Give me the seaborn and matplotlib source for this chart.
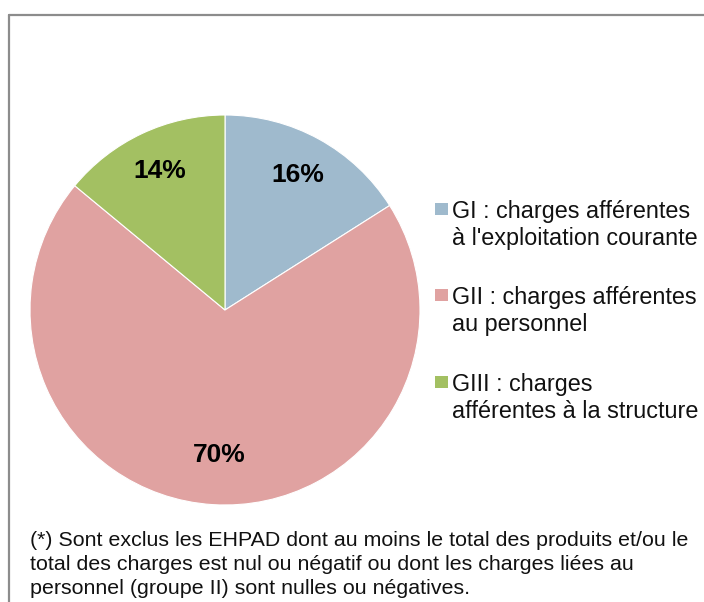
import matplotlib
matplotlib.use("Agg")
import matplotlib.pyplot as plt
from matplotlib.lines import Line2D
from matplotlib.patches import Rectangle
import seaborn as sns

# ----------------------
# DATA
# ----------------------
groups = [["GI : charges afférentes", "à l'exploitation courante"],
          ["GII : charges afférentes", "au personnel"],
          ["GIII : charges", "afférentes à la structure"]]
shares = [16, 70, 14]
colors = ["#9FBACD", "#E0A2A1", "#A3C062"]
note = ["(*) Sont exclus les EHPAD dont au moins le total des produits et/ou le",
        "total des charges est nul ou négatif ou dont les charges liées au",
        "personnel (groupe II) sont nulles ou négatives."]

sns.set_theme(style="white")
plt.rcParams['font.family'] = ['Liberation Sans', 'DejaVu Sans']

W, H = 704, 602
fig = plt.figure(figsize=(W / 100, H / 100), dpi=100)

def fy(py):
    return (H - py) / H

# pie: centre ~ (225, 310), radius ~ 195 px
cx, cy, r = 225, 310, 195
ax = fig.add_axes([(cx - r) / W, (H - cy - r) / H, 2 * r / W, 2 * r / H])
wedges, texts = ax.pie(shares, colors=colors, startangle=90, counterclock=False,
                       labels=[f"{v}%" for v in shares], labeldistance=0.63,
                       wedgeprops=dict(edgecolor="white", linewidth=0.8),
                       textprops=dict(fontsize=19, fontweight="bold", color="black"))
ax.set_aspect("equal")
ax.set_xlim(-1, 1)
ax.set_ylim(-1, 1)

# move labels to where they sit in the reference
label_pos = [(298, 172), (219, 452), (160, 168)]
for t, (px, py) in zip(texts, label_pos):
    t.set_position(((px - cx) / r, (cy - py) / r))
    t.set_ha("center")
    t.set_va("center_baseline")

# legend, drawn by hand
leg_y = [209, 295, 382]
for y, c, lines in zip(leg_y, colors, groups):
    fig.add_artist(Rectangle((435 / W, fy(y + 6)), 13 / W, 12 / H,
                             transform=fig.transFigure, color=c, lw=0))
    for i, line in enumerate(lines):
        fig.text(452 / W, fy(y + 27 * i), line, fontsize=16.8, va="center_baseline",
                 ha="left", color="#111111")

# footnote
for i, line in enumerate(note):
    fig.text(30 / W, fy(539 + 23.5 * i), line, fontsize=15.4, va="center_baseline",
             ha="left", color="#111111")

# chart frame (only left and top visible)
fig.add_artist(Line2D([9 / W, 9 / W], [0, fy(15)], transform=fig.transFigure,
                      color="#8C8C8C", lw=1.6))
fig.add_artist(Line2D([9 / W, 1], [fy(15), fy(15)], transform=fig.transFigure,
                      color="#8C8C8C", lw=1.6))

fig.savefig("out.png", dpi=100, facecolor="white")
